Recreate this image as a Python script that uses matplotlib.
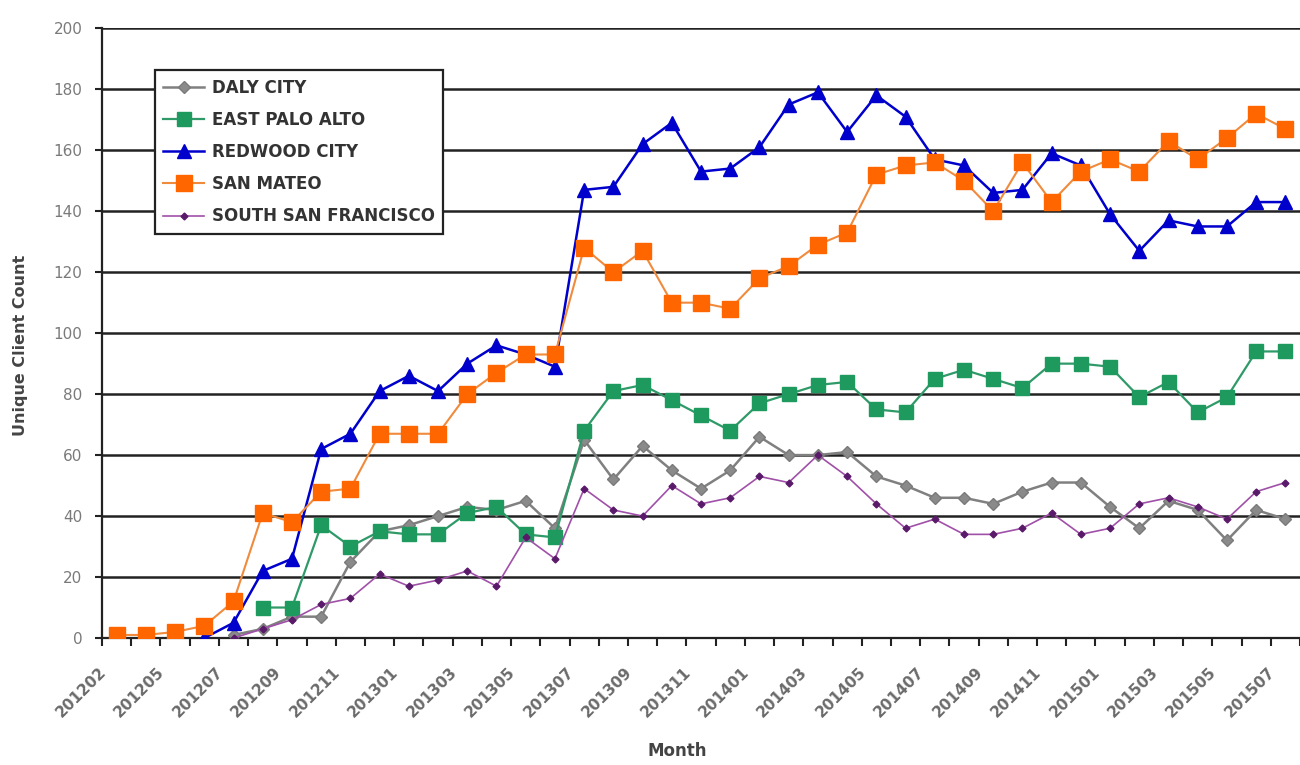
import numpy as np
import matplotlib
matplotlib.use("Agg")
import matplotlib.pyplot as plt
from matplotlib.transforms import ScaledTranslation

nan = np.nan

### data ###

months = ["201202", "201204", "201205", "201206", "201207", "201208", "201209",
          "201210", "201211", "201212",
          "201301", "201302", "201303", "201304", "201305", "201306", "201307",
          "201308", "201309", "201310", "201311", "201312",
          "201401", "201402", "201403", "201404", "201405", "201406", "201407",
          "201408", "201409", "201410", "201411", "201412",
          "201501", "201502", "201503", "201504", "201505", "201506", "201507"]

daly_city = [nan, nan, nan, nan, 1, 3, 7, 7, 25, 35, 37, 40, 43, 42, 45, 36, 65,
             52, 63, 55, 49, 55, 66, 60, 60, 61, 53, 50, 46, 46, 44, 48, 51, 51,
             43, 36, 45, 42, 32, 42, 39]
east_palo_alto = [nan, nan, nan, nan, nan, 10, 10, 37, 30, 35, 34, 34, 41, 43,
                  34, 33, 68, 81, 83, 78, 73, 68, 77, 80, 83, 84, 75, 74, 85,
                  88, 85, 82, 90, 90, 89, 79, 84, 74, 79, 94, 94]
redwood_city = [nan, nan, nan, 0, 5, 22, 26, 62, 67, 81, 86, 81, 90, 96, 93, 89,
                147, 148, 162, 169, 153, 154, 161, 175, 179, 166, 178, 171, 157,
                155, 146, 147, 159, 155, 139, 127, 137, 135, 135, 143, 143]
san_mateo = [1, 1, 2, 4, 12, 41, 38, 48, 49, 67, 67, 67, 80, 87, 93, 93, 128,
             120, 127, 110, 110, 108, 118, 122, 129, 133, 152, 155, 156, 150,
             140, 156, 143, 153, 157, 153, 163, 157, 164, 172, 167]
south_sf = [nan, nan, nan, nan, 0, 3, 6, 11, 13, 21, 17, 19, 22, 17, 33, 26, 49,
            42, 40, 50, 44, 46, 53, 51, 60, 53, 44, 36, 39, 34, 34, 36, 41, 34,
            36, 44, 46, 43, 39, 48, 51]

x = np.arange(len(months))

fig = plt.figure(figsize=(13, 7.65), dpi=100)
ax = fig.add_axes([0.0785, 0.166, 0.9215, 0.797])

# horizontal grid lines
for v in range(20, 201, 20):
    ax.axhline(v, color="#222222", lw=1.8, zorder=1)

ax.plot(x, daly_city, color="#808080", lw=1.8, marker="D", ms=6.5,
        mfc="#8a8a8a", mec="#7a7a7a", label="DALY CITY", zorder=3)
ax.plot(x, east_palo_alto, color="#2f9a68", lw=1.6, marker="s", ms=10,
        mfc="#1f9a5e", mec="#1f9a5e", label="EAST PALO ALTO", zorder=3)
ax.plot(x, redwood_city, color="#0000cc", lw=1.8, marker="^", ms=9.5,
        mfc="#0000cc", mec="#0000cc", label="REDWOOD CITY", zorder=3)
ax.plot(x, san_mateo, color="#f08a3c", lw=1.5, marker="s", ms=11.5,
        mfc="#ff6600", mec="#ff6600", label="SAN MATEO", zorder=3)
ax.plot(x, south_sf, color="#a050a8", lw=1.2, marker="D", ms=3.5,
        mfc="#5a1a6a", mec="#5a1a6a", label="SOUTH SAN FRANCISCO", zorder=3)

ax.set_xlim(-0.5, len(months) - 0.5)
ax.set_ylim(0, 200)

# category axis: tick marks between categories, labels every other month
ax.set_xticks(np.arange(-0.5, len(months), 1.0), minor=True)
ax.set_xticks(x[::2])
ax.set_xticklabels(months[::2], rotation=45, ha="right", va="center",
                   rotation_mode="anchor", fontsize=11, fontweight="bold",
                   color="#6a6a6a")
ax.tick_params(axis="x", which="major", length=0, pad=23)
ax.tick_params(axis="x", which="minor", length=6, width=1.5,
               direction="out", color="#222222")
shift = ScaledTranslation(-13 / 100, 0, fig.dpi_scale_trans)
for lab in ax.get_xticklabels():
    lab.set_transform(lab.get_transform() + shift)

ax.set_yticks(range(0, 201, 20))
ax.tick_params(axis="y", length=5, width=1.5, color="#222222",
               labelsize=11, labelcolor="#7a7a7a", pad=9)

for s in ["top", "right"]:
    ax.spines[s].set_visible(False)
ax.spines["left"].set_linewidth(1.6)
ax.spines["left"].set_color("#222222")
ax.spines["bottom"].set_linewidth(1.6)
ax.spines["bottom"].set_color("#222222")

ax.set_xlabel("Month", fontsize=12, fontweight="bold", color="#444444")
ax.xaxis.set_label_coords(0.48, -0.17)
ax.set_ylabel("Unique Client Count", fontsize=11.5, fontweight="bold",
              color="#444444")
ax.yaxis.set_label_coords(-0.062, 0.48)

leg = ax.legend(loc="upper left", bbox_to_anchor=(0.0442, 0.931),
                borderaxespad=0, fancybox=False, framealpha=1,
                edgecolor="#222222", prop={"weight": "bold", "size": 12},
                labelspacing=0.85, handlelength=2.45, handletextpad=0.45,
                borderpad=0.5)
leg.get_frame().set_linewidth(1.6)
for t in leg.get_texts():
    t.set_color("#333333")

fig.savefig("out.png", dpi=100, facecolor="white")
